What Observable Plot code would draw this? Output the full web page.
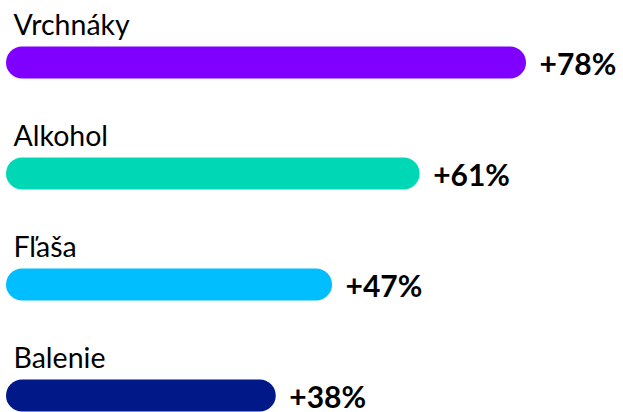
<!DOCTYPE html>
<html>
<head>
<meta charset="utf-8">
<script src="https://cdn.jsdelivr.net/npm/d3@7"></script>
<script src="https://cdn.jsdelivr.net/npm/@observablehq/plot@0.6"></script>
<style>
  html, body { margin: 0; padding: 0; background: #fff; }
  #chart svg { display: block; }
</style>
</head>
<body>
<div id="chart"></div>
<script>
const categories = ["Vrchnáky", "Alkohol", "Fľaša", "Balenie"];
const values = [78, 61, 47, 38];
const colors = ["#7F00FF", "#00D8B5", "#00BEFF", "#001888"];

const data = categories.map((c, i) => ({category: c, value: values[i], color: colors[i]}));

const chart = Plot.plot({
  width: 623,
  height: 412,
  margin: 0,
  style: {fontFamily: "Lato, 'Open Sans', sans-serif", background: "#fff"},
  x: {domain: [0, 78], range: [22, 510], axis: null},
  y: {type: "point", domain: categories, range: [61, 396.5], padding: 0, axis: null},
  marks: [
    Plot.ruleY(data, {
      y: "category", x1: 0, x2: "value",
      stroke: d => d.color, strokeWidth: 32, strokeLinecap: "round"
    }),
    Plot.text(data, {
      x: 0, y: "category", text: "category",
      textAnchor: "start", lineAnchor: "bottom", dx: -9, dy: -28,
      fontSize: 28.5, fill: "#000"
    }),
    Plot.text(data, {
      x: "value", y: "category", text: d => "+" + d.value + "%",
      textAnchor: "start", lineAnchor: "bottom", dx: 29, dy: 12,
      fontSize: 30, fontWeight: "bold", fill: "#000"
    })
  ]
});
document.getElementById("chart").appendChild(chart);
</script>
</body>
</html>
